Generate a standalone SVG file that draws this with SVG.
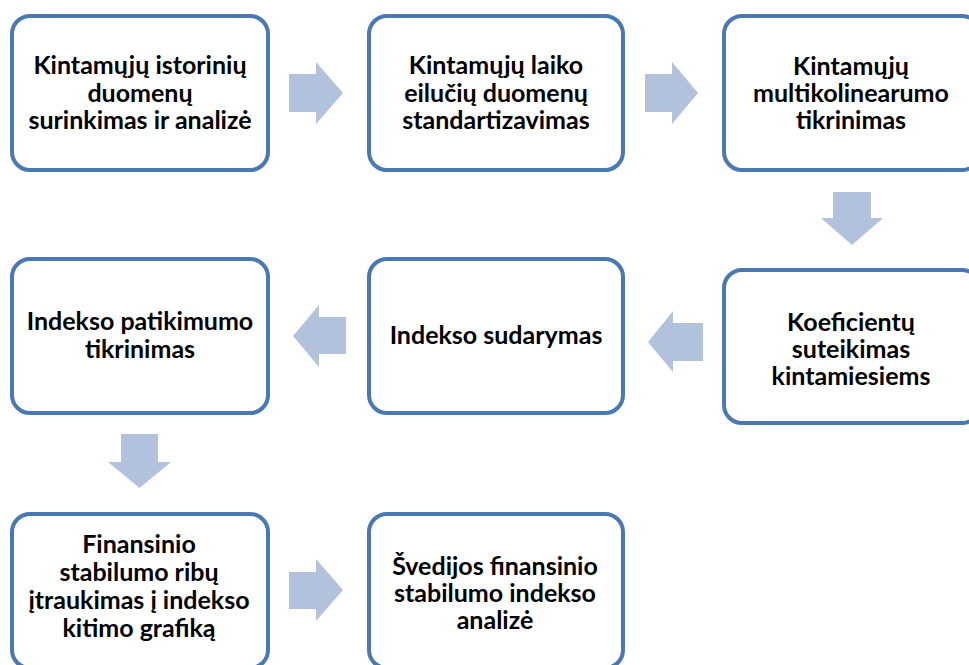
<svg xmlns="http://www.w3.org/2000/svg" width="969" height="665" viewBox="0 0 969 665">
<style>
.box{fill:#ffffff;stroke:#4A78B3;stroke-width:4}
.arr{fill:#B2C2DD}
.t{font-family:Lato,"Liberation Sans",sans-serif;font-weight:700;font-size:25px;fill:#000;text-anchor:middle}
</style>
<rect width="969" height="665" fill="#ffffff"/>
<g id="connectors">
<polygon class="arr" points="289,74 316,74 316,62 343,93 316,124 316,112 289,112"/>
<polygon class="arr" points="645,74 672,74 672,62 698,93 672,124 672,112 645,112"/>
<polygon class="arr" points="833,192 871,192 871,218 883,218 852,245 821,218 833,218"/>
<polygon class="arr" points="703,323 673,323 673,311 648,342 673,372 673,361 703,361"/>
<polygon class="arr" points="346,317 319,317 319,305 293,336 319,367 319,354 346,354"/>
<polygon class="arr" points="121,434 158,434 158,462 171,462 139.5,488 108,462 121,462"/>
<polygon class="arr" points="289,572 316,572 316,559 343,590 316,621 316,609 289,609"/>
</g>
<g id="n1"><rect class="box" x="12" y="16" width="256" height="154" rx="18"/>
<text class="t" x="140" y="74">Kintamųjų istorinių</text><text class="t" x="140" y="102">duomenų</text><text class="t" x="140" y="129">surinkimas ir analizė</text></g>
<g id="n2"><rect class="box" x="369" y="16" width="254" height="154" rx="18"/>
<text class="t" x="496" y="74">Kintamųjų laiko</text><text class="t" x="496" y="102">eilučių duomenų</text><text class="t" x="496" y="129">standartizavimas</text></g>
<g id="n3"><rect class="box" x="724" y="16" width="256" height="154" rx="18"/>
<text class="t" x="851" y="75">Kintamųjų</text><text class="t" x="851" y="102">multikolinearumo</text><text class="t" x="851" y="129">tikrinimas</text></g>
<g id="n4"><rect class="box" x="724" y="270" width="256" height="153" rx="18"/>
<text class="t" x="851" y="331">Koeficientų</text><text class="t" x="851" y="358">suteikimas</text><text class="t" x="851" y="385">kintamiesiems</text></g>
<g id="n5"><rect class="box" x="369" y="259" width="254" height="154" rx="18"/>
<text class="t" x="496" y="344">Indekso sudarymas</text></g>
<g id="n6"><rect class="box" x="12" y="259" width="256" height="154" rx="18"/>
<text class="t" x="140" y="330">Indekso patikimumo</text><text class="t" x="140" y="358">tikrinimas</text></g>
<g id="n7"><rect class="box" x="12" y="514" width="256" height="154" rx="18"/>
<text class="t" x="139" y="553">Finansinio</text><text class="t" x="139" y="581">stabilumo ribų</text><text class="t" x="139" y="609">įtraukimas į indekso</text><text class="t" x="139" y="637">kitimo grafiką</text></g>
<g id="n8"><rect class="box" x="369" y="514" width="254" height="154" rx="18"/>
<text class="t" x="495" y="575">Švedijos finansinio</text><text class="t" x="495" y="602">stabilumo indekso</text><text class="t" x="495" y="629">analizė</text></g>
</svg>
